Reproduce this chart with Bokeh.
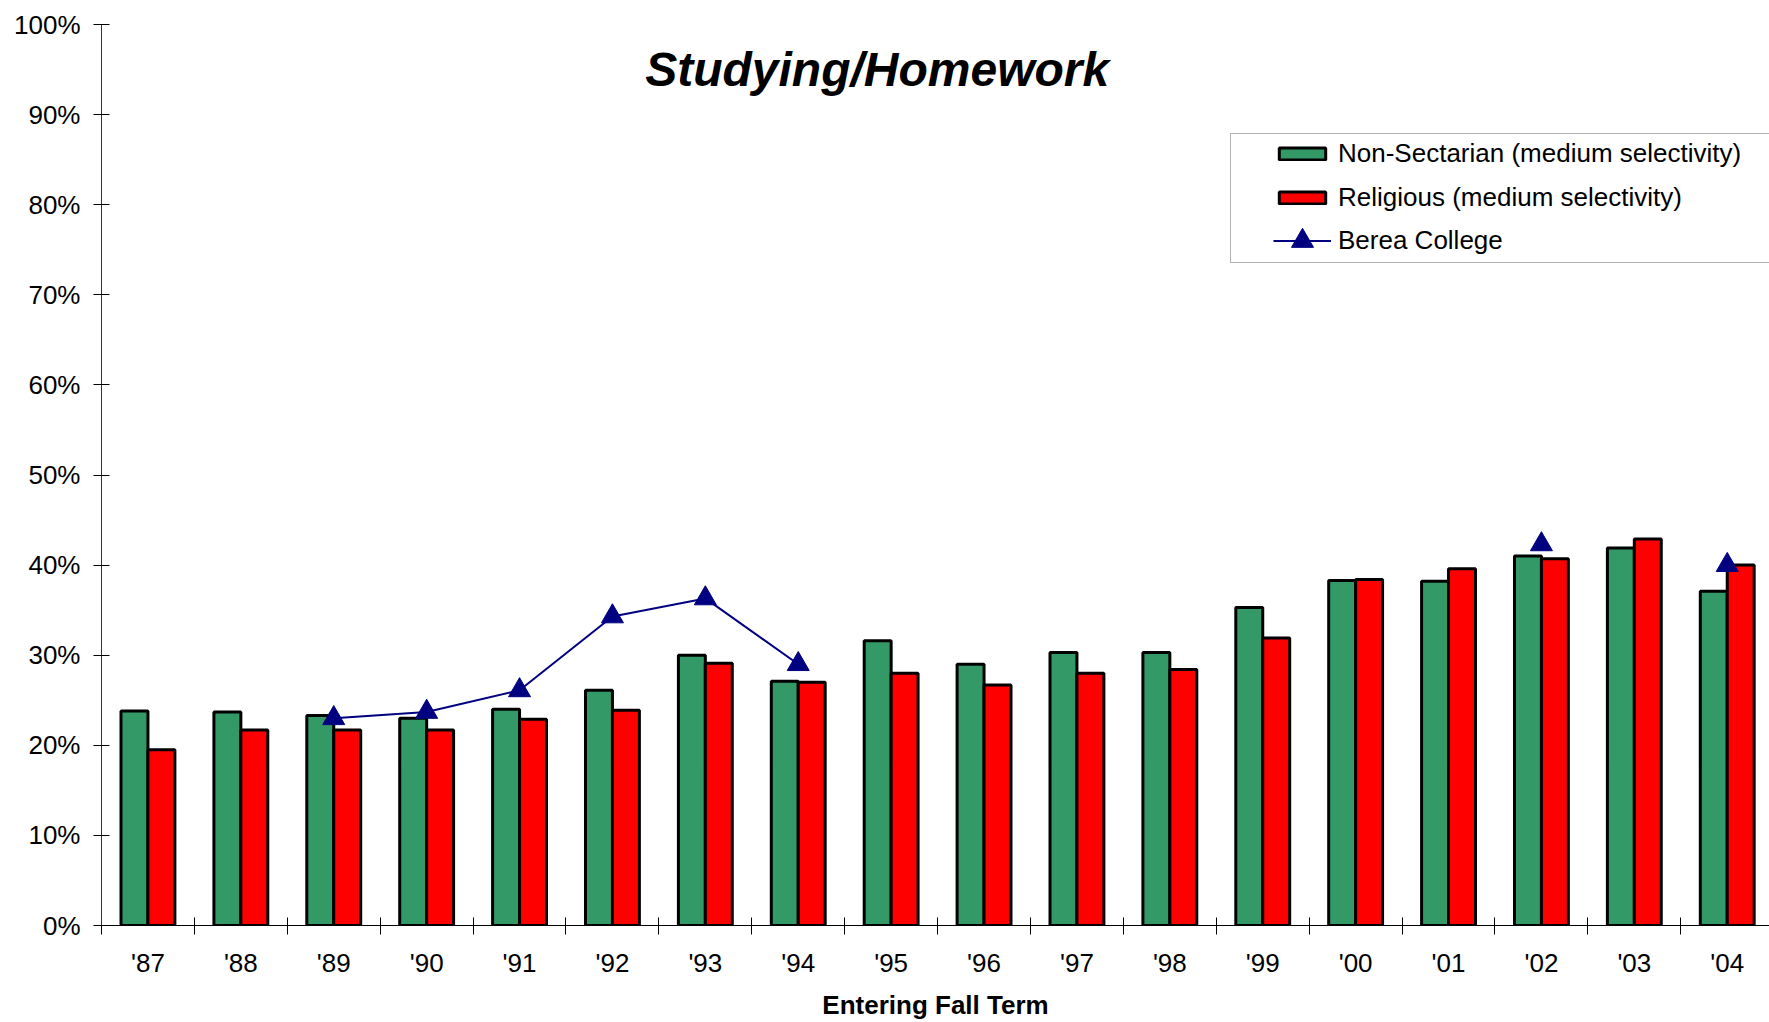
import numpy as np
from bokeh.plotting import figure
from bokeh.models import (ColumnDataSource, FixedTicker, PrintfTickFormatter, Legend,
                          LegendItem, Label, BoxAnnotation, Range1d)
from bokeh.embed import file_html
from bokeh.resources import INLINE

# ---------------- data ----------------
years = ["'87", "'88", "'89", "'90", "'91", "'92", "'93", "'94", "'95",
         "'96", "'97", "'98", "'99", "'00", "'01", "'02", "'03", "'04"]
non_sectarian = [23.8, 23.7, 23.3, 23.0, 24.0, 26.1, 30.0, 27.1, 31.6,
                 29.0, 30.3, 30.3, 35.3, 38.3, 38.2, 41.0, 41.9, 37.1]
religious = [19.5, 21.7, 21.7, 21.7, 22.9, 23.9, 29.1, 27.0, 28.0,
             26.7, 28.0, 28.4, 31.9, 38.4, 39.6, 40.7, 42.9, 40.0]
berea = [np.nan, np.nan, 23.0, 23.7, 26.1, 34.3, 36.3, 29.0, np.nan,
         np.nan, np.nan, np.nan, np.nan, np.nan, np.nan, 42.3, np.nan, 40.0]
y_ticks = list(range(0, 101, 10))

title_text = "Studying/Homework"
x_title = "Entering Fall Term"
series_names = ["Non-Sectarian (medium selectivity)", "Religious (medium selectivity)", "Berea College"]

GREEN = "#339966"
RED = "#FF0000"
NAVY = "#000080"
FONT = "Liberation Sans"

idx = np.arange(len(years))
centers = idx + 0.5
bar_w = 0.29

src = ColumnDataSource(dict(
    xg=centers - bar_w / 2, xr=centers + bar_w / 2, xc=centers,
    ns=non_sectarian, rel=religious, berea=berea))

p = figure(width=1769, height=1022, output_backend="svg", toolbar_location=None,
           x_range=Range1d(0, 17.955), y_range=Range1d(0, 100),
           min_border_left=101, min_border_right=0, min_border_top=24, min_border_bottom=96)
p.outline_line_color = None
p.xgrid.visible = False
p.ygrid.visible = False
p.background_fill_color = "white"

# legend frame (extends past right edge like the reference)
p.add_layout(BoxAnnotation(left=1129, right=1720, top=792, bottom=663,
                           left_units="screen", right_units="screen",
                           top_units="screen", bottom_units="screen",
                           fill_color="white", fill_alpha=1.0,
                           line_color="black", line_width=1, level="annotation"))

g = p.vbar(x="xg", top="ns", width=bar_w, source=src, fill_color=GREEN,
           line_color="black", line_width=3)
r = p.vbar(x="xr", top="rel", width=bar_w, source=src, fill_color=RED,
           line_color="black", line_width=3)
bl = p.line(x="xc", y="berea", source=src, line_color=NAVY, line_width=2)
bs = p.scatter(x="xc", y="berea", source=src, marker="triangle", size=22,
               fill_color=NAVY, line_color=NAVY)

# axes
yax = p.yaxis[0]
yax.ticker = FixedTicker(ticks=y_ticks)
yax.formatter = PrintfTickFormatter(format="%d%%")
yax.major_tick_in = 8
yax.major_tick_out = 8
yax.minor_tick_line_color = None
yax.major_label_standoff = 13
yax.major_label_text_font = FONT
yax.major_label_text_font_size = "26px"
yax.major_label_text_color = "black"
yax.axis_line_color = "#333333"
yax.major_tick_line_color = "black"

xax = p.xaxis[0]
xax.ticker = FixedTicker(ticks=list(centers), minor_ticks=list(range(len(years) + 1)))
xax.major_label_overrides = {float(c): y for c, y in zip(centers, years)}
xax.major_tick_in = 0
xax.major_tick_out = 0
xax.minor_tick_in = 8
xax.minor_tick_out = 9
xax.minor_tick_line_color = "black"
xax.major_label_standoff = 13
xax.major_label_text_font = FONT
xax.major_label_text_font_size = "26px"
xax.major_label_text_color = "black"
xax.axis_line_color = "black"
xax.axis_label = x_title
xax.axis_label_standoff = 9
xax.axis_label_text_font = FONT
xax.axis_label_text_font_size = "26px"
xax.axis_label_text_font_style = "bold"
xax.axis_label_text_color = "black"

# title inside the plot area
p.add_layout(Label(x=8.35, y=95.0, text=title_text, text_font=FONT,
                   text_font_size="48px", text_font_style="bold italic",
                   text_align="center", text_baseline="alphabetic", text_color="black"))

leg1 = Legend(items=[LegendItem(label=series_names[0], renderers=[g]),
                     LegendItem(label=series_names[1], renderers=[r])],
              location=(1172, 712), padding=0, margin=0, spacing=13,
              glyph_width=58, glyph_height=15, label_height=30, label_standoff=7,
              label_text_font=FONT, label_text_font_size="26px", label_text_color="black",
              border_line_alpha=0, background_fill_alpha=0)
leg2 = Legend(items=[LegendItem(label=series_names[2], renderers=[bl, bs])],
              location=(1172, 657), padding=0, margin=0, spacing=0,
              glyph_width=58, glyph_height=55, label_height=30, label_standoff=7,
              label_text_font=FONT, label_text_font_size="26px", label_text_color="black",
              border_line_alpha=0, background_fill_alpha=0)
p.add_layout(leg1)
p.add_layout(leg2)

open("out.html", "w").write(file_html(p, INLINE))
